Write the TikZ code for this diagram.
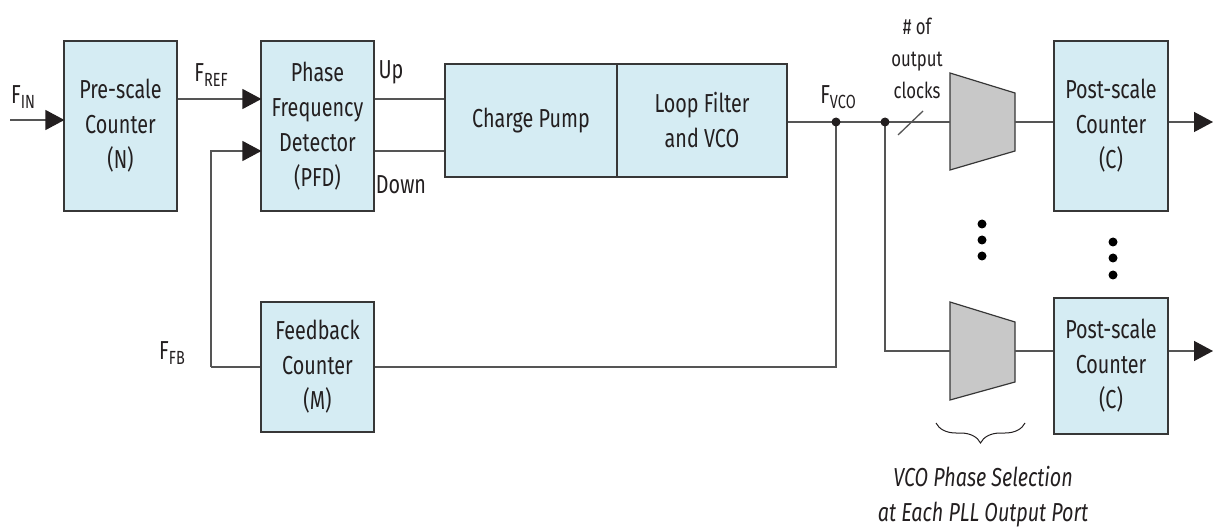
\documentclass[tikz,border=0pt]{standalone}
\usepackage{fontspec}
\setmainfont[FakeStretch=0.76]{Fira Sans}
\usetikzlibrary{arrows.meta,decorations.pathreplacing}
\definecolor{boxfill}{RGB}{213,236,243}
\definecolor{boxline}{RGB}{55,55,55}
\definecolor{wire}{RGB}{85,85,85}
\definecolor{txt}{RGB}{35,31,32}
\definecolor{muxfill}{RGB}{200,200,200}
\newcommand\fsub[1]{F\raisebox{-0.35ex}{\fontsize{19}{19}\selectfont #1}}
\begin{document}
\begin{tikzpicture}[x=1pt,y=-1pt,
  font=\fontsize{26}{35}\selectfont, text=txt,
  blk/.style={draw=boxline, fill=boxfill, line width=1.2pt, align=center, inner sep=0pt},
  wireln/.style={draw=wire, line width=1.3pt},
  arr/.style={wireln, -{Triangle[length=19pt,width=20pt,color=txt]}, shorten >=-1pt},
  mux/.style={draw=boxline, fill=muxfill, line width=1.2pt},
  jdot/.style={circle, fill=txt, inner sep=0pt, minimum size=9pt},
  edot/.style={circle, fill=black, inner sep=0pt, minimum size=9pt},
  lbl/.style={align=center, inner sep=0pt}]
\useasboundingbox (0,0) rectangle (1213,529);

% blocks
\node[blk, minimum width=113pt, minimum height=170pt] (pre) at (120.5,126) {Pre-scale\\Counter\\(N)};
\node[blk, minimum width=113pt, minimum height=170pt] (pfd) at (317.5,126) {Phase\\Frequency\\Detector\\(PFD)};
\node[blk, minimum width=172pt, minimum height=113pt] (cp) at (531,120.5) {Charge Pump};
\node[blk, minimum width=170pt, minimum height=113pt] (lf) at (702,120.5) {Loop Filter\\and VCO};
\node[blk, minimum width=113pt, minimum height=130pt] (fb) at (317.5,367) {Feedback\\Counter\\(M)};
\node[blk, minimum width=114pt, minimum height=170pt] (post1) at (1111,126) {Post-scale\\Counter\\(C)};
\node[blk, minimum width=114pt, minimum height=136pt] (post2) at (1111,366) {Post-scale\\Counter\\(C)};

% muxes
\draw[mux] (950,73) -- (1015,93) -- (1015,151) -- (950,170) -- cycle;
\draw[mux] (950,302) -- (1015,322) -- (1015,382) -- (950,400) -- cycle;
\coordinate (m1in) at (950,122);
\coordinate (m1out) at (1015,122);
\coordinate (m2in) at (950,351);
\coordinate (m2out) at (1015,351);

% junctions and free ends
\coordinate (fin) at (10,120);
\coordinate (j1) at (836,122);
\coordinate (j2) at (885,122);
\coordinate (fbc) at (211,367);
\coordinate (o1) at (1212,122);
\coordinate (o2) at (1212,351);

% connectors
\draw[arr] (fin) -- (fin -| pre.west);
\draw[arr] (pre.east |- 0,99) -- (pfd.west |- 0,99);
\draw[wireln] (pfd.east |- 0,99) -- (cp.west |- 0,99);
\draw[wireln] (pfd.east |- 0,151) -- (cp.west |- 0,151);
\draw[wireln] (lf.east |- j1) -- (j1) -- (j2) -- (m1in);
\draw[wireln] (m1out) -- (m1out -| post1.west);
\draw[arr] (post1.east |- o1) -- (o1);
\draw[wireln] (j1) -- (j1 |- fb.east) -- (fb.east);
\draw[wireln] (fb.west) -- (fbc);
\draw[arr] (fbc) -- (fbc |- 0,151) -- (pfd.west |- 0,151);
\draw[wireln] (j2) -- (j2 |- m2in) -- (m2in);
\draw[wireln] (m2out) -- (m2out -| post2.west);
\draw[arr] (post2.east |- o2) -- (o2);
\draw[wireln] (898,135) -- (923,111);

\node[jdot] (d1) at (j1) {};
\node[jdot] (d2) at (j2) {};

% ellipsis dots
\foreach \y [count=\i] in {224,240,256} \node[edot] (ea\i) at (982,\y) {};
\foreach \y [count=\i] in {242,258,275} \node[edot] (eb\i) at (1113,\y) {};

% brace
\draw[line width=1pt, draw=txt, decorate, decoration={brace, amplitude=20pt}] (1025,423) -- (936,423);

% labels
\node[lbl] (lfin) at (23,97) {\fsub{IN}};
\node[lbl] (lfref) at (211,75) {\fsub{REF}};
\node[lbl] (lup) at (391,72) {Up};
\node[lbl] (ldown) at (401,185) {Down};
\node[lbl] (lfvco) at (838,97) {\fsub{VCO}};
\node[lbl, font=\fontsize{22}{32}\selectfont] (lclk) at (917,58) {\# of\\output\\clocks};
\node[lbl] (lffb) at (172,353) {\fsub{FB}};
\node[lbl, font=\itshape\fontsize{26}{35}\selectfont] (lsel) at (983,497) {VCO Phase Selection\\at Each PLL Output Port};
\end{tikzpicture}
\end{document}
